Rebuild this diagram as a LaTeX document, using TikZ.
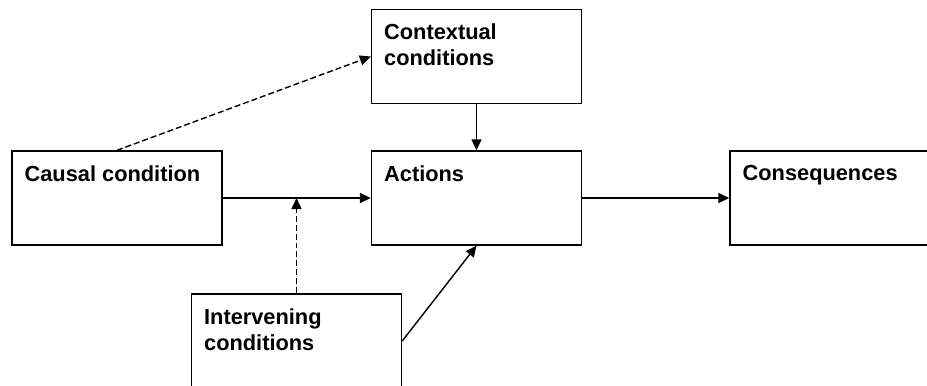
\documentclass[tikz,border=0pt]{standalone}
\usepackage{fontspec}
\setmainfont{Liberation Sans}
\usetikzlibrary{arrows.meta}

\begin{document}
\begin{tikzpicture}[
    box/.style={draw, line width=0.8pt, minimum width=4.2cm, minimum height=1.88cm, inner sep=0pt},
    txt/.style={anchor=north west, inner sep=0pt, align=left, font=\bfseries\fontsize{12.4pt}{14.8pt}\selectfont, xshift=0.26cm, yshift=-0.3cm},
    con/.style={line width=0.8pt, -{Triangle[length=2.2mm, width=2mm]}},
    dashcon/.style={con, dash pattern=on 3.4pt off 1.7pt}
  ]
  \useasboundingbox (0,0) rectangle (18.54,7.7);
  \clip (0,0) rectangle (18.54,7.7);

  \node[box, label={[txt]north west:Causal condition}] (causal) at (2.34,3.74) {};
  \node[box, label={[txt]north west:Contextual\\conditions}] (context) at (9.53,6.57) {};
  \node[box, label={[txt]north west:Actions}] (actions) at (9.53,3.74) {};
  \node[box, minimum width=6cm, label={[txt]north west:Consequences}] (conseq) at (17.6,3.74) {};
  \node[box, label={[txt]north west:Intervening\\conditions}] (interv) at (5.93,0.88) {};
  \coordinate (meet) at (interv.north |- causal.east);

  \draw[con] (causal.east) -- (actions.west);
  \draw[con] (actions.east) -- (conseq.west);
  \draw[con] (context.south) -- (actions.north);
  \draw[con] (interv.east) -- (actions.south);
  \draw[dashcon] (interv.north) -- (meet);
  \draw[dashcon] (causal.north) -- (context.west);
\end{tikzpicture}
\end{document}
